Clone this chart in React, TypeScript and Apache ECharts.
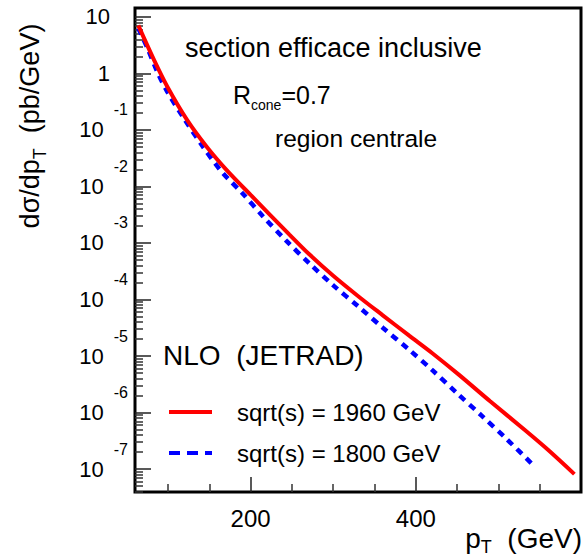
import React, { useEffect, useRef } from "react";
import * as echarts from "echarts";

// p_T (GeV) and dσ/dp_T (pb/GeV)
const pt1960 = [64, 83, 99, 123, 147, 171, 200, 247, 271, 300, 331, 360, 392, 420, 452, 490, 532, 560, 592];
const xs1960 = [7.1, 1.74, 0.589, 0.151, 0.0501, 0.0195, 7.08e-3, 1.41e-3, 6.31e-4, 2.63e-4, 1.12e-4, 5.25e-5, 2.29e-5, 1.12e-5, 4.68e-6, 1.58e-6, 4.9e-7, 2.19e-7, 8.13e-8];
const pt1800 = [64, 75, 87, 99, 119, 141, 165, 190, 215, 243, 271, 300, 331, 360, 392, 420, 450, 480, 510, 544];
const xs1800 = [6.31, 2.82, 1.07, 0.479, 0.162, 0.0537, 0.0182, 7.59e-3, 2.95e-3, 1.1e-3, 4.37e-4, 1.78e-4, 7.41e-5, 3.16e-5, 1.29e-5, 5.62e-6, 2.19e-6, 8.71e-7, 3.39e-7, 1.1e-7];

const seriesNames = ["sqrt(s) = 1960 GeV", "sqrt(s) = 1800 GeV"];

// axis ticks
const xMajorTicks = [200, 400];
const xMinorTicks = [100, 150, 250, 300, 350, 450, 500, 550];
const yMajorTicks = [1e-7, 1e-6, 1e-5, 1e-4, 1e-3, 1e-2, 1e-1, 1, 10];
const yDecades = [1e-8, 1e-7, 1e-6, 1e-5, 1e-4, 1e-3, 1e-2, 1e-1, 1];
const yMinorMultipliers = [2, 3, 4, 5, 6, 7, 8, 9];

const X_MIN = 60;
const X_MAX = 600;
const Y_MIN = 3.92e-8;
const Y_MAX = 14.4;

const FONT = "'Liberation Sans', Arial, Helvetica, sans-serif";

export default function App() {
  const ref = useRef<HTMLDivElement>(null);

  useEffect(() => {
    if (!ref.current) return;
    const chart = echarts.init(ref.current, null, { renderer: "svg" });

    const yMinorTicks: number[] = [];
    yDecades.forEach((d) => yMinorMultipliers.forEach((m) => yMinorTicks.push(d * m)));

    const zip = (xs: number[], ys: number[]) => xs.map((x, i) => [x, ys[i]]);

    const yLabelFormatter = (v: number) => {
      const e = Math.round(Math.log10(v));
      if (e === 1) return "{p|10}";
      if (e === 0) return "{p|1}";
      return "{b|10}{e|" + e + "}";
    };

    const option: any = {
      animation: false,
      textStyle: { fontFamily: FONT },
      grid: {
        left: 135,
        top: 8,
        width: 446,
        height: 484,
        show: true,
        borderColor: "#000",
        borderWidth: 3,
        backgroundColor: "transparent",
        containLabel: false,
        outerBoundsMode: "none",
      },
      xAxis: [
        {
          type: "value",
          min: X_MIN,
          max: X_MAX,
          axisLine: { show: false },
          splitLine: { show: false },
          axisTick: {
            show: true,
            inside: true,
            length: 15,
            customValues: xMajorTicks,
            lineStyle: { color: "#222", width: 1.5 },
          },
          axisLabel: {
            show: true,
            customValues: xMajorTicks,
            margin: 14,
            fontSize: 24,
            color: "#000",
            fontFamily: FONT,
          },
        },
        {
          type: "value",
          min: X_MIN,
          max: X_MAX,
          position: "bottom",
          axisLine: { show: false },
          splitLine: { show: false },
          axisLabel: { show: false },
          axisTick: {
            show: true,
            inside: true,
            length: 8,
            customValues: xMinorTicks,
            lineStyle: { color: "#333", width: 1.5 },
          },
        },
      ],
      yAxis: [
        {
          type: "log",
          logBase: 10,
          min: Y_MIN,
          max: Y_MAX,
          position: "left",
          axisLine: { show: false },
          splitLine: { show: false },
          axisTick: {
            show: true,
            inside: true,
            length: 16,
            customValues: yMajorTicks,
            lineStyle: { color: "#222", width: 1.5 },
          },
          axisLabel: {
            show: true,
            customValues: yMajorTicks,
            margin: 7,
            color: "#000",
            fontFamily: FONT,
            formatter: yLabelFormatter,
            rich: {
              p: { fontSize: 22, fontFamily: FONT, color: "#000", padding: [0, 18, 0, 0] },
              b: { fontSize: 22, fontFamily: FONT, color: "#000" },
              e: { fontSize: 16, fontFamily: FONT, color: "#000", padding: [0, 0, 40, 10] },
            },
          },
        },
        {
          type: "log",
          logBase: 10,
          min: Y_MIN,
          max: Y_MAX,
          position: "left",
          axisLine: { show: false },
          splitLine: { show: false },
          axisLabel: { show: false },
          axisTick: {
            show: true,
            inside: true,
            length: 8,
            customValues: yMinorTicks,
            lineStyle: { color: "#333", width: 1.5 },
          },
        },
      ],
      legend: {
        orient: "vertical",
        left: 167,
        top: 397,
        padding: 0,
        itemWidth: 43,
        itemHeight: 14,
        itemGap: 11,
        selectedMode: false,
        itemStyle: { color: "transparent", borderColor: "transparent", borderWidth: 0 },
        textStyle: {
          fontSize: 24,
          lineHeight: 30,
          color: "#000",
          fontFamily: FONT,
          padding: [0, 0, 0, 20],
        },
        data: [
          {
            name: seriesNames[0],
            itemStyle: { color: "transparent", borderColor: "transparent", borderWidth: 0 },
            lineStyle: { width: 4, color: "#ff0000", type: "solid" },
          },
          {
            name: seriesNames[1],
            itemStyle: { color: "transparent", borderColor: "transparent", borderWidth: 0 },
            lineStyle: { width: 4, color: "#0000ff", type: [11, 7] },
          },
        ],
      },
      series: [
        {
          name: seriesNames[1],
          type: "line",
          xAxisIndex: 0,
          yAxisIndex: 0,
          data: zip(pt1800, xs1800),
          smooth: 0.3,
          symbol: "none",
          color: "#0000ff",
          lineStyle: { color: "#0000ff", width: 4.5, type: [7, 6] },
          z: 3,
        },
        {
          name: seriesNames[0],
          type: "line",
          xAxisIndex: 0,
          yAxisIndex: 0,
          data: zip(pt1960, xs1960),
          smooth: 0.3,
          symbol: "none",
          color: "#ff0000",
          lineStyle: { color: "#ff0000", width: 4 },
          z: 4,
        },
      ],
      graphic: [
        {
          type: "text",
          x: 185,
          y: 48,
          style: {
            text: "section efficace inclusive",
            fontSize: 27,
            fontFamily: FONT,
            fill: "#000",
            verticalAlign: "middle",
          },
        },
        {
          type: "text",
          x: 233,
          y: 95,
          style: {
            text: "{a|R}{s|cone}{a|=0.7}",
            verticalAlign: "middle",
            align: "left",
            rich: {
              a: { fontSize: 25, fontFamily: FONT, fill: "#000" },
              s: { fontSize: 14, fontFamily: FONT, fill: "#000", padding: [20, 0, 0, 0] },
            },
          },
        },
        {
          type: "text",
          x: 275,
          y: 138,
          style: { text: "region centrale", fontSize: 24.5, fontFamily: FONT, fill: "#000", verticalAlign: "middle" },
        },
        {
          type: "text",
          x: 163,
          y: 355,
          style: { text: "NLO  (JETRAD)", fontSize: 28, fontFamily: FONT, fill: "#000", verticalAlign: "middle" },
        },
        {
          type: "text",
          x: 30,
          y: 126,
          rotation: Math.PI / 2,
          style: {
            text: "{a|dσ/dp}{s|T}{a|  (pb/GeV)}",
            align: "center",
            verticalAlign: "middle",
            rich: {
              a: { fontSize: 27, fontFamily: FONT, fill: "#000" },
              s: { fontSize: 18, fontFamily: FONT, fill: "#000", padding: [20, 0, 0, 0] },
            },
          },
        },
        {
          type: "text",
          x: 582,
          y: 538,
          style: {
            text: "{a|p}{s|T}{a|  (GeV)}",
            align: "right",
            verticalAlign: "middle",
            rich: {
              a: { fontSize: 28, fontFamily: FONT, fill: "#000" },
              s: { fontSize: 18, fontFamily: FONT, fill: "#000", padding: [18, 0, 0, 0] },
            },
          },
        },
      ],
    };

    chart.setOption(option);
    return () => chart.dispose();
  }, []);

  return (
    <div
      ref={ref}
      style={{ position: "fixed", left: 0, top: 0, width: 585, height: 558, background: "#fff" }}
    />
  );
}
